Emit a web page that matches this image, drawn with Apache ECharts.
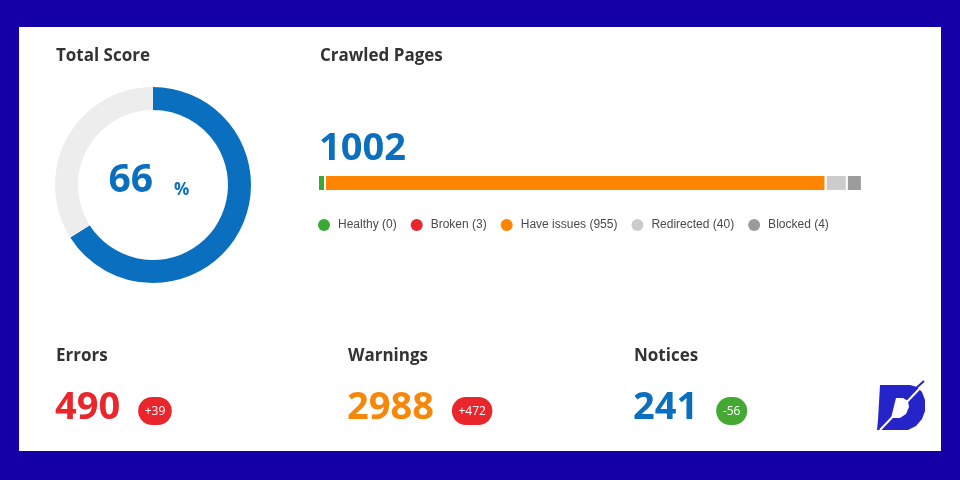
<!DOCTYPE html>
<html><head><meta charset="utf-8">
<script src="https://cdn.jsdelivr.net/npm/echarts@6/dist/echarts.min.js"></script>
<style>html,body{margin:0;padding:0;background:#1500a8}#c{width:960px;height:480px}</style>
</head><body><div id="c"></div>
<script>
// ---- data ----
const scoreValue = 66;
const scoreMax = 100;
const crawledTotal = 1002;
const pageCategories = ['Healthy', 'Broken', 'Have issues', 'Redirected', 'Blocked'];
const pageCounts = [0, 3, 955, 40, 4];
const issueNames = ['Errors', 'Warnings', 'Notices'];
const issueValues = [490, 2988, 241];
const issueDeltas = ['+39', '+472', '-56'];

// ---- styles ----
const pageColors = ['#3aaa35', '#e8262b', '#ff8500', '#cccccc', '#9b9b9b'];
const pageMinWidths = [7, 0, 0, 0, 15];
const issueColors = ['#e8262b', '#f7870b', '#0b6fbf'];
const deltaColors = ['#e8262b', '#e8262b', '#45a832'];
const issueX = [56, 348, 634];
const FONT = '"Open Sans", "DejaVu Sans", sans-serif';
const BLUE = '#0b6fbf';

const ctx = document.createElement('canvas').getContext('2d');
function textWidth(t, font) { ctx.font = font; return ctx.measureText(t).width; }

const chart = echarts.init(document.getElementById('c'), null, { renderer: 'canvas' });

const graphics = [
  { type: 'rect', z: -10, shape: { x: 19, y: 27, width: 922, height: 424 }, style: { fill: '#ffffff' }, silent: true }
];
function title(text, x, y) {
  graphics.push({ type: 'text', z: 5, style: { text: text, x: x, y: y, fill: '#333333', font: 'bold 17px ' + FONT, align: 'left', verticalAlign: 'middle' } });
}
title('Total Score', 56, 56);
title('Crawled Pages', 320, 56);
issueNames.forEach((n, i) => title(n, issueX[i], 356));

// center score text
graphics.push({ type: 'text', z: 5, style: { text: String(scoreValue), x: 153, y: 181, fill: BLUE, font: 'bold 39px ' + FONT, align: 'right', verticalAlign: 'middle' } });
graphics.push({ type: 'text', z: 5, style: { text: '%', x: 174, y: 190, fill: BLUE, font: 'bold 17px ' + FONT, align: 'left', verticalAlign: 'middle' } });

// crawled total
graphics.push({ type: 'text', z: 5, style: { text: String(crawledTotal), x: 319, y: 149, fill: BLUE, font: 'bold 38px ' + FONT, align: 'left', verticalAlign: 'middle' } });

// issue numbers + badges
const numFont = 'bold 38px ' + FONT;
issueValues.forEach((v, i) => {
  const s = String(v);
  const w = textWidth(s, numFont);
  graphics.push({ type: 'text', z: 5, style: { text: s, x: issueX[i] - 1, y: 408, fill: issueColors[i], font: numFont, align: 'left', verticalAlign: 'middle' } });
  const bFont = '12px ' + FONT;
  const bw = Math.max(31, textWidth(issueDeltas[i], bFont) + 13);
  const bx = issueX[i] + w + 17;
  graphics.push({ type: 'rect', z: 5, shape: { x: bx, y: 397, width: bw, height: 28, r: 14 }, style: { fill: deltaColors[i] } });
  graphics.push({ type: 'text', z: 6, style: { text: issueDeltas[i], x: bx + bw / 2, y: 412, fill: '#ffffff', font: bFont, align: 'center', verticalAlign: 'middle' } });
});

// logo
graphics.push({ type: 'polygon', z: 5, shape: { points: [[880,385],[910,385],[917,387],[922,392],[925,400],[925,411],[922,419],[916,426],[908,430],[877,430],[878,420]] }, style: { fill: '#2424c8' } });
graphics.push({ type: 'polygon', z: 6, shape: { points: [[896,398],[903,398],[908,401],[909,407],[906,414],[900,418],[891,418]] }, style: { fill: '#ffffff' } });
graphics.push({ type: 'line', z: 7, shape: { x1: 880, y1: 430, x2: 924, y2: 384 }, style: { stroke: '#ffffff', lineWidth: 2 } });
graphics.push({ type: 'line', z: 7, shape: { x1: 914, y1: 390, x2: 924, y2: 381 }, style: { stroke: '#2424c8', lineWidth: 2 } });

// stacked segments (start offsets derived from the counts)
const segStarts = [];
pageCounts.reduce((acc, v, i) => { segStarts[i] = acc; return acc + v; }, 0);

const barSeries = pageCategories.map((c, i) => ({
  name: c + ' (' + pageCounts[i] + ')',
  type: 'custom',
  coordinateSystem: 'cartesian2d',
  silent: true,
  z: i === 0 ? 4 : 2,
  itemStyle: { color: pageColors[i] },
  encode: { x: [0, 1], y: 2 },
  data: [[segStarts[i], segStarts[i] + pageCounts[i], 0]],
  renderItem: function (params, api) {
    const p0 = api.coord([api.value(0), 0]);
    const p1 = api.coord([api.value(1), 0]);
    let w = p1[0] - p0[0];
    if (w < pageMinWidths[i]) w = pageMinWidths[i];
    const h = 16;
    return {
      type: 'rect',
      shape: { x: p0[0], y: p0[1] - h / 2, width: w, height: h },
      style: { fill: pageColors[i], stroke: '#ffffff', lineWidth: w > 2 ? 2 : 0 }
    };
  }
}));

chart.setOption({
  animation: false,
  backgroundColor: '#1500a8',
  graphic: graphics,
  grid: { left: 318, top: 174, width: 531, height: 18 },
  xAxis: { type: 'value', min: 0, max: crawledTotal, show: false },
  yAxis: { type: 'category', data: ['pages'], show: false },
  legend: {
    left: 313, top: 214,
    icon: 'circle', itemWidth: 12, itemHeight: 12, itemGap: 14,
    selectedMode: false,
    textStyle: { fontSize: 12, color: '#4a4a4a', fontFamily: '"Liberation Sans", Arial, sans-serif', padding: [0, 0, 0, 3] },
    data: barSeries.map(s => s.name)
  },
  series: [
    {
      type: 'pie', center: [153, 185], radius: [75, 98], startAngle: 90, clockwise: true,
      silent: true, label: { show: false }, labelLine: { show: false },
      data: [
        { value: scoreValue, name: 'score', itemStyle: { color: BLUE } },
        { value: scoreMax - scoreValue, name: 'rest', itemStyle: { color: '#ededed' } }
      ]
    }
  ].concat(barSeries)
});
</script></body></html>
